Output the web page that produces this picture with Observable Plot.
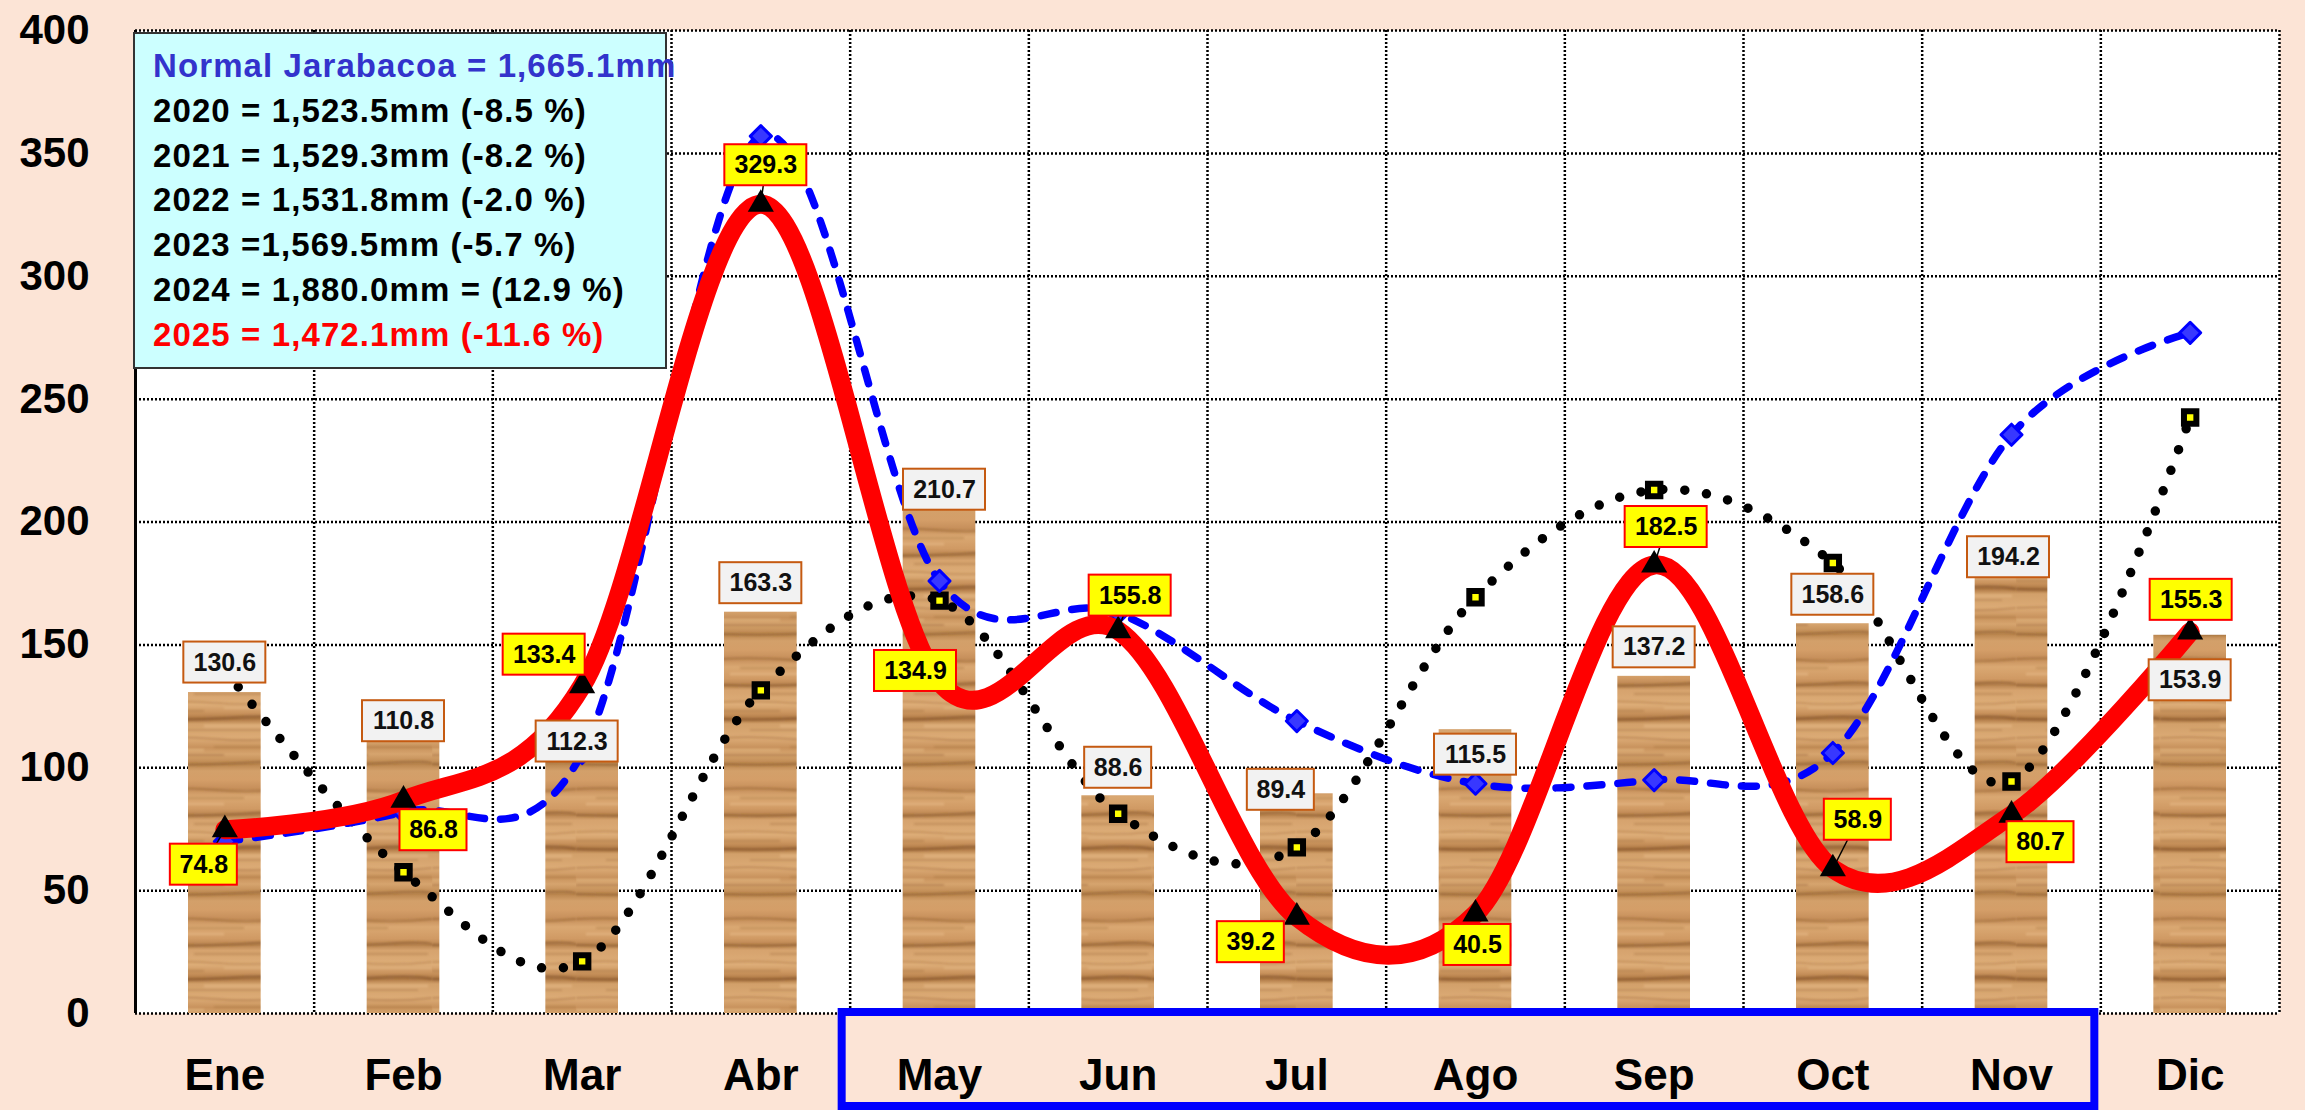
<!DOCTYPE html>
<html>
<head>
<meta charset="utf-8">
<script src="https://cdn.jsdelivr.net/npm/d3@7"></script>
<script src="https://cdn.jsdelivr.net/npm/@observablehq/plot@0.6"></script>
<style>
  html, body { margin: 0; padding: 0; background: #fce4d6; }
  #chart { position: relative; width: 2305px; height: 1110px; }
</style>
</head>
<body>
<svg width="0" height="0" style="position:absolute">
  <defs>
    <linearGradient id="woodgrad" x1="0" y1="0" x2="0" y2="1">
      <stop offset="0" stop-color="#d49e68"/>
      <stop offset="0.07" stop-color="#c58e5a"/>
      <stop offset="0.13" stop-color="#daa872"/>
      <stop offset="0.22" stop-color="#d09a64"/>
      <stop offset="0.27" stop-color="#b98450"/>
      <stop offset="0.31" stop-color="#d6a36e"/>
      <stop offset="0.42" stop-color="#ddad78"/>
      <stop offset="0.48" stop-color="#cb955f"/>
      <stop offset="0.53" stop-color="#b07a46"/>
      <stop offset="0.57" stop-color="#d2a06a"/>
      <stop offset="0.68" stop-color="#dcab76"/>
      <stop offset="0.75" stop-color="#c8925c"/>
      <stop offset="0.80" stop-color="#d6a46e"/>
      <stop offset="0.88" stop-color="#bb864f"/>
      <stop offset="0.93" stop-color="#d3a06a"/>
      <stop offset="1" stop-color="#d49e68"/>
    </linearGradient>
    <filter id="soft" x="-5%" y="-20%" width="110%" height="140%">
      <feGaussianBlur stdDeviation="0.9"/>
    </filter>
    <pattern id="wood" patternUnits="userSpaceOnUse" width="144" height="130">
      <rect x="0" y="0" width="144" height="130" fill="url(#woodgrad)"/>
      <g filter="url(#soft)" fill="none">
        <path d="M0,9 Q36,7 72,10 T144,9" stroke="#93602f" stroke-width="1.8" opacity="0.55"/>
        <path d="M20,18 L100,18" stroke="#a06c3a" stroke-width="1.4" opacity="0.45"/>
        <path d="M0,35 Q48,37 96,34 T144,35" stroke="#85552a" stroke-width="2.2" opacity="0.6"/>
        <path d="M50,44 L140,44" stroke="#9c6836" stroke-width="1.4" opacity="0.45"/>
        <path d="M0,52 Q36,50 72,53 T144,52" stroke="#a8723e" stroke-width="1.6" opacity="0.5"/>
        <path d="M0,61 L60,61" stroke="#9c6836" stroke-width="1.4" opacity="0.45"/>
        <path d="M0,69 Q42,71 84,68 T144,69" stroke="#85552a" stroke-width="2.4" opacity="0.65"/>
        <path d="M30,80 L130,80" stroke="#9c6836" stroke-width="1.4" opacity="0.4"/>
        <path d="M0,88 Q36,86 72,89 T144,88" stroke="#9a6434" stroke-width="1.6" opacity="0.5"/>
        <path d="M70,97 L144,97" stroke="#a06c3a" stroke-width="1.4" opacity="0.45"/>
        <path d="M0,105 L80,105" stroke="#93602f" stroke-width="1.6" opacity="0.5"/>
        <path d="M0,114 Q48,116 96,113 T144,114" stroke="#85552a" stroke-width="2" opacity="0.55"/>
        <path d="M10,24 L80,24" stroke="#e8bd8a" stroke-width="2.5" opacity="0.6"/>
        <path d="M60,76 L140,76" stroke="#e8bd8a" stroke-width="2.5" opacity="0.6"/>
        <path d="M0,100 L60,100" stroke="#e8bd8a" stroke-width="2.5" opacity="0.5"/>
        <path d="M80,58 L144,58" stroke="#e8bd8a" stroke-width="2" opacity="0.5"/>
      </g>
    </pattern>
  </defs>
</svg>
<div id="chart"></div>
<script>
// ---- data ----
const months = ["Ene","Feb","Mar","Abr","May","Jun","Jul","Ago","Sep","Oct","Nov","Dic"];
const normal = [130.6,110.8,112.3,163.3,210.7,88.6,89.4,115.5,137.2,158.6,194.2,153.9];
const y2023 = [139.8,57.5,21.2,131.5,168.0,81.3,67.6,169.4,213.0,183.3,94.4,242.5];
const y2024 = [70,82,106,357,176,163,119,93.5,95,106,235.5,277];
const y2025 = [74.8,86.8,133.4,329.3,134.9,155.8,39.2,40.5,182.5,58.9,80.7,155.3];
const yTicks = [0,50,100,150,200,250,300,350,400];
const legendLines = [
  "Normal Jarabacoa = 1,665.1mm",
  "2020 = 1,523.5mm (-8.5 %)",
  "2021 = 1,529.3mm (-8.2 %)",
  "2022 = 1,531.8mm (-2.0 %)",
  "2023 =1,569.5mm (-5.7 %)",
  "2024 = 1,880.0mm = (12.9 %)",
  "2025 = 1,472.1mm (-11.6 %)"
];
const legendColors = ["#3333cc","#000","#000","#000","#000","#000","#ff0000"];

// label offsets in pixels (box centre relative to the data point)
const off2025 = [[-21,35],[30,30],[-38,-31],[5,-39],[-24,-11],[12,-35],[-46,25],[2,31],[12,-38],[25,-49],[29,27],[1,-32]];
const offNormal = [[0,-30],[0,-20],[-5,4],[0,-29],[5,-6],[0,-28],[-16,-4],[0,25],[0,-29],[0,-29],[-3,21],[0,45]];
const leaders = [0,3,5,8,9];

// ---- layout ----
const W = 2305, H = 1110, ML = 135, MR = 26, MT = 30, MB = 97;
const pxX = (W - ML - MR) / 12, pxY = (H - MT - MB) / 400;
const BOX_H = 41;

const rows = months.map((m, i) => ({i, m, cx: i + 0.5, normal: normal[i], y2023: y2023[i], y2024: y2024[i], y2025: y2025[i]}));

function makeLabels(vals, offs) {
  return vals.map((v, i) => {
    const t = v.toFixed(1);
    const w = 15 * t.length + 7;
    const cx = i + 0.5 + offs[i][0] / pxX;
    const cy = v - offs[i][1] / pxY;
    return {i, t, v, cx, cy, x1: cx - (w / 2) / pxX, x2: cx + (w / 2) / pxX, y1: cy - (BOX_H / 2) / pxY, y2: cy + (BOX_H / 2) / pxY};
  });
}
const labN = makeLabels(normal, offNormal);
const lab25 = makeLabels(y2025, off2025);
const leadRows = lab25.filter(d => leaders.includes(d.i));

const grid = {stroke: "black", strokeWidth: 2.5, strokeDasharray: "2,2"};

const chart = Plot.plot({
  width: W, height: H,
  marginLeft: ML, marginRight: MR, marginTop: MT, marginBottom: MB,
  style: {background: "transparent", fontFamily: "'Liberation Sans', Arial, sans-serif", overflow: "visible"},
  x: {domain: [0, 12], axis: null},
  y: {domain: [0, 400], axis: null},
  marks: [
    Plot.frame({fill: "white", stroke: "none"}),
    Plot.ruleY(yTicks, grid),
    Plot.ruleX(d3.range(1, 13), grid),
    Plot.rectY(rows, {x1: d => d.i, x2: d => d.i + 1, y1: 0, y2: "normal", insetLeft: 53, insetRight: 53, fill: "url(#wood)"}),
    Plot.ruleX([0], {stroke: "black", strokeWidth: 3}),
    Plot.line(rows, {x: "cx", y: "y2023", curve: "cardinal", stroke: "black", strokeWidth: 9.5, strokeDasharray: "0,22", strokeLinecap: "round"}),
    Plot.line(rows, {x: "cx", y: "y2024", curve: "cardinal", stroke: "#0000ff", strokeWidth: 7.5, strokeDasharray: "15,16", strokeLinecap: "round"}),
    Plot.dot(rows, {x: "cx", y: "y2023", symbol: "square", r: 7, fill: "#ffff00", stroke: "black", strokeWidth: 6}),
    Plot.dot(rows, {x: "cx", y: "y2024", symbol: "diamond2", r: 9.5, fill: "#3838ff", stroke: "#0000ff", strokeWidth: 3, strokeLinejoin: "round"}),
    Plot.line(rows, {x: "cx", y: "y2025", curve: "cardinal", stroke: "#ff0000", strokeWidth: 19, strokeLinecap: "round", strokeLinejoin: "round"}),
    Plot.link(leadRows, {x1: d => d.i + 0.5, y1: "v", x2: "cx", y2: "cy", stroke: "black", strokeWidth: 1.5}),
    Plot.dot(rows, {x: "cx", y: "y2025", symbol: "triangle", r: 9.7, fill: "black", stroke: "none"}),
    Plot.rect(labN, {x1: "x1", x2: "x2", y1: "y1", y2: "y2", fill: "#f2f2f2", stroke: "#c55a11", strokeWidth: 2}),
    Plot.text(labN, {x: "cx", y: "cy", text: "t", fontSize: 25, fontWeight: "bold", fill: "#111"}),
    Plot.rect(lab25, {x1: "x1", x2: "x2", y1: "y1", y2: "y2", fill: "#ffff00", stroke: "#ff0000", strokeWidth: 2}),
    Plot.text(lab25, {x: "cx", y: "cy", text: "t", fontSize: 25, fontWeight: "bold", fill: "#000"}),
    Plot.axisY({ticks: yTicks, tickSize: 0, tickPadding: 46, fontSize: 42, fontWeight: "bold", color: "#000", label: null}),
    Plot.axisX({ticks: rows.map(d => d.cx), tickFormat: v => months[Math.round(v - 0.5)], tickSize: 0, tickPadding: 45, fontSize: 44, fontWeight: "bold", color: "#000", label: null})
  ]
});

document.getElementById("chart").appendChild(chart);

// ---- annotations: legend box and blue highlight box ----
const svg = d3.select(chart);
const xs = chart.scale("x");
const bx1 = xs.apply(4) - 8, bx2 = xs.apply(11) - 6;
svg.append("rect")
  .attr("x", bx1).attr("y", 1012).attr("width", bx2 - bx1).attr("height", 94)
  .attr("fill", "none").attr("stroke", "#0000ff").attr("stroke-width", 8);

const lg = svg.append("g").attr("text-anchor", "start");
lg.append("rect").attr("x", 134).attr("y", 33).attr("width", 532).attr("height", 335)
  .attr("fill", "#ccffff").attr("stroke", "#333").attr("stroke-width", 2);
legendLines.forEach((t, k) => {
  lg.append("text").attr("x", 153).attr("y", 77 + k * 44.8)
    .attr("text-anchor", "start")
    .attr("fill", legendColors[k])
    .attr("font-family", "'Liberation Sans', Arial, sans-serif")
    .attr("font-weight", "bold").attr("font-size", 33).attr("letter-spacing", 1.1)
    .text(t);
});
</script>
</body>
</html>
